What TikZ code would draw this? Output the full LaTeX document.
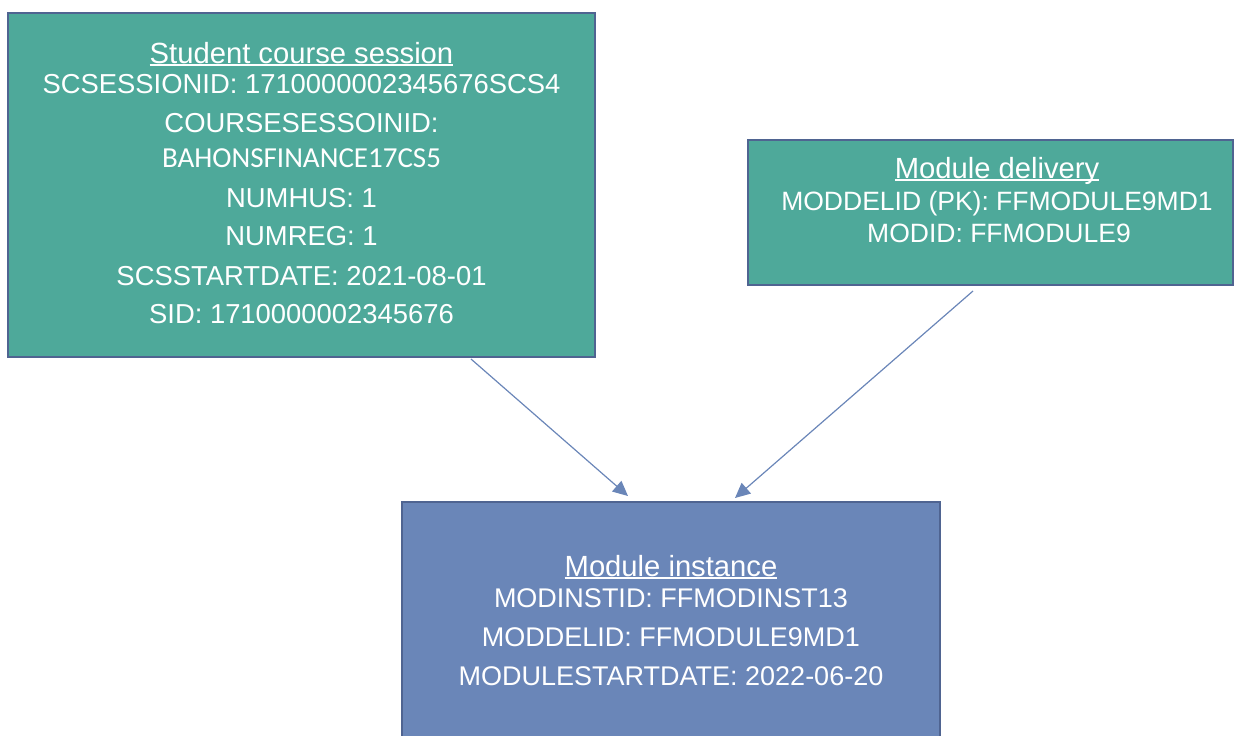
\documentclass[tikz,border=0pt]{standalone}
\usepackage{fontspec}
\setmainfont{Liberation Sans}
\newfontfamily\calib{Carlito}
\usetikzlibrary{arrows.meta}
\definecolor{teal}{HTML}{4EA99A}
\definecolor{bluebox}{HTML}{6A86B8}
\definecolor{edge}{HTML}{4F6491}
\definecolor{arrowc}{HTML}{6A86B8}
\newcommand\myul[1]{\setbox0\hbox{#1}\rlap{\rule[-3pt]{\wd0}{1.8pt}}\box0}
\tikzset{
  entity/.style={draw=edge, line width=2pt, rectangle, inner sep=0pt},
  txt/.style={text=white, anchor=base, inner sep=0pt, font=\fontsize{26.5}{30}\selectfont},
  txtl/.style={txt, font=\fontsize{27.4}{30}\selectfont},
  txtm/.style={txt, font=\fontsize{27}{30}\selectfont},
  ttl/.style={txt, font=\fontsize{29.2}{32}\selectfont},
  txtc/.style={text=white, anchor=base, inner sep=0pt, font=\calib\fontsize{29}{32}\selectfont},
  link/.style={draw=arrowc, line width=1.2pt, -{Triangle[length=15pt,width=14pt]}}
}
\begin{document}
\begin{tikzpicture}[x=1pt,y=-1pt]
\useasboundingbox (0,0) rectangle (1235,736);
\clip (0,0) rectangle (1235,736);
\node[entity, fill=teal, minimum width=587pt, minimum height=344pt] (scs) at (301.5,185) {};
\node[entity, fill=teal, minimum width=485pt, minimum height=145pt] (md) at (990.5,212.5) {};
\node[entity, fill=bluebox, minimum width=538pt, minimum height=260pt] (mi) at (671,632) {};

\node[ttl] (scs0) at (301.5,63) {\myul{Student course session}};
\node[txtl] (scs1) at (301.5,93) {SCSESSIONID: 1710000002345676SCS4};
\node[txtl] (scs2) at (301.5,132) {COURSESESSOINID:};
\node[txtc] (scs3) at (301.5,167) {BAHONSFINANCE17CS5};
\node[txtl] (scs4) at (301.5,207) {NUMHUS: 1};
\node[txtl] (scs5) at (301.5,245) {NUMREG: 1};
\node[txtl] (scs6) at (301.5,285) {SCSSTARTDATE: 2021-08-01};
\node[txtl] (scs7) at (301.5,323) {SID: 1710000002345676};

\node[ttl] (md0) at (997,178) {\myul{Module delivery}};
\node[txt] (md1) at (997,210) {MODDELID (PK): FFMODULE9MD1};
\node[txt] (md2) at (999,242) {MODID: FFMODULE9};

\node[ttl] (mi0) at (671,576) {\myul{Module instance}};
\node[txtm] (mi1) at (671,607) {MODINSTID: FFMODINST13};
\node[txtm] (mi2) at (671,646) {MODDELID: FFMODULE9MD1};
\node[txtm] (mi3) at (671,685) {MODULESTARTDATE: 2022-06-20};

\draw[link] ([xshift=169.5pt,yshift=-1pt]scs.south) -- ([xshift=-43pt,yshift=5pt]mi.north);
\draw[link] ([xshift=-17.5pt,yshift=-5pt]md.south) -- ([xshift=64pt,yshift=3pt]mi.north);
\end{tikzpicture}
\end{document}
